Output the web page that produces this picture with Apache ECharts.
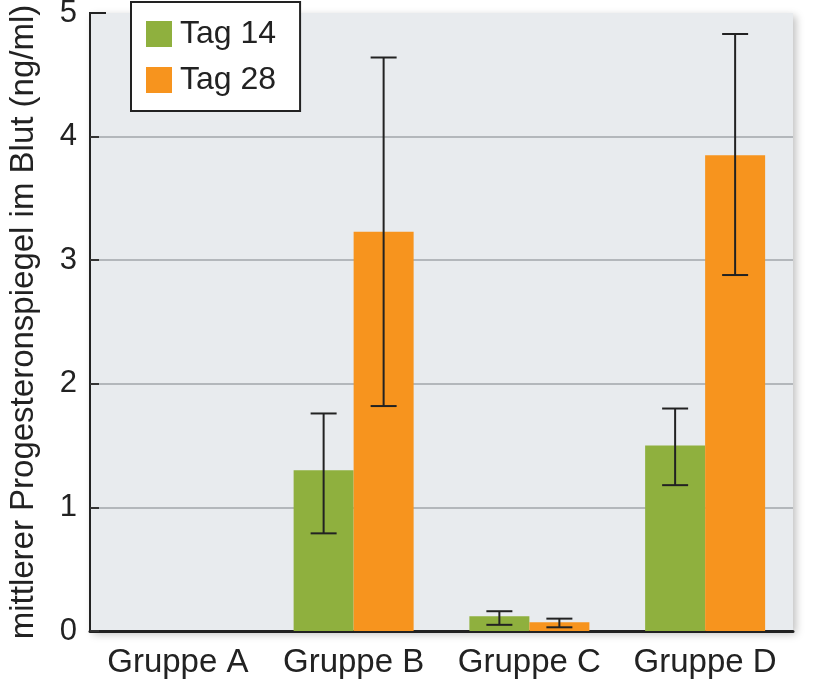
<!DOCTYPE html>
<html><head><meta charset="utf-8">
<script src="https://cdn.jsdelivr.net/npm/echarts@6/dist/echarts.min.js"></script>
<style>html,body{margin:0;padding:0;background:#fff}#c{width:813px;height:685px}</style>
</head><body><div id="c"></div>
<script>
const categories = ['Gruppe A', 'Gruppe B', 'Gruppe C', 'Gruppe D'];
const seriesNames = ['Tag 14', 'Tag 28'];
const tag14 = [0, 1.30, 0.12, 1.50];
const tag28 = [0, 3.23, 0.07, 3.85];
const tag14Low = [null, 0.79, 0.05, 1.18];
const tag14High = [null, 1.76, 0.16, 1.80];
const tag28Low = [null, 1.82, 0.03, 2.88];
const tag28High = [null, 4.64, 0.10, 4.83];
const yTicks = [0, 1, 2, 3, 4, 5];

const chart = echarts.init(document.getElementById('c'));
const font = 'Liberation Sans, Arial, sans-serif';
const BAR_W = 60;

function errData(low, high, idx) {
  return categories.map((c, i) => low[i] == null ? null : [i, low[i], high[i], idx]).filter(d => d);
}
function renderErr(params, api) {
  const i = api.value(0), lo = api.value(1), hi = api.value(2), s = api.value(3);
  const c = api.coord([i, 0]);
  const x = c[0] + (s === 0 ? -BAR_W / 2 : BAR_W / 2);
  const pLo = api.coord([i, lo])[1], pHi = api.coord([i, hi])[1];
  const cap = 13;
  const style = { stroke: '#222', lineWidth: 2 };
  return { type: 'group', children: [
    { type: 'line', shape: { x1: x, y1: pLo, x2: x, y2: pHi }, style },
    { type: 'line', shape: { x1: x - cap, y1: pHi, x2: x + cap, y2: pHi }, style },
    { type: 'line', shape: { x1: x - cap, y1: pLo, x2: x + cap, y2: pLo }, style }
  ]};
}

chart.setOption({
  animation: false,
  textStyle: { fontFamily: font },
  grid: { left: 90, right: 20, top: 13, bottom: 54, containLabel: false, outerBoundsMode: 'none',
          show: true, backgroundColor: '#e8ebee', borderWidth: 0,
          shadowColor: 'rgba(0,0,0,0.25)', shadowBlur: 8, shadowOffsetX: 3, shadowOffsetY: 3 },
  legend: {
    data: seriesNames, orient: 'vertical', left: 131, top: 2,
    backgroundColor: '#fff', borderColor: '#222', borderWidth: 2,
    padding: [16, 24, 15, 15], itemGap: 14, itemWidth: 26, itemHeight: 26,
    textStyle: { fontSize: 32, color: '#222', fontFamily: font, padding: [2, 0, 0, 3] },
    icon: 'rect'
  },
  xAxis: {
    type: 'category', data: categories,
    axisLine: { lineStyle: { color: '#222', width: 3 } },
    axisTick: { show: false },
    axisLabel: { fontSize: 33, color: '#222', margin: 15, fontFamily: font, interval: 0 }
  },
  yAxis: {
    type: 'value', min: 0, max: 5, interval: 1,
    name: 'mittlerer Progesteronspiegel im Blut (ng/ml)', nameLocation: 'middle', nameGap: 50, nameRotate: 90,
    nameTextStyle: { fontSize: 33, color: '#222', fontFamily: font },
    axisLine: { show: true, lineStyle: { color: '#222', width: 2 } },
    axisTick: { show: true, inside: true, length: 9, lineStyle: { color: '#333', width: 2 } },
    axisLabel: { fontSize: 31, color: '#222', margin: 13, fontFamily: font,
                 formatter: v => yTicks.includes(v) ? String(v) : '' },
    splitLine: { show: true, lineStyle: { color: ['rgba(0,0,0,0)', '#b3b7bb', '#b3b7bb', '#b3b7bb', '#b3b7bb', 'rgba(0,0,0,0)'], width: 2 } }
  },
  series: [
    { name: seriesNames[0], type: 'bar', data: tag14, barWidth: BAR_W, barGap: '0%',
      itemStyle: { color: '#8fb03e' } },
    { name: seriesNames[1], type: 'bar', data: tag28, barWidth: BAR_W, barGap: '0%',
      itemStyle: { color: '#f7941e' } },
    { type: 'custom', data: errData(tag14Low, tag14High, 0), renderItem: renderErr, z: 5 },
    { type: 'custom', data: errData(tag28Low, tag28High, 1), renderItem: renderErr, z: 5 },
    { type: 'custom', data: [[0, yTicks[yTicks.length - 1]]], z: 6,
      renderItem: (params, api) => {
        const y = api.coord([0, api.value(1)])[1];
        const x0 = params.coordSys.x;
        return { type: 'line', shape: { x1: x0 - 1, y1: y, x2: x0 + 16, y2: y }, style: { stroke: '#222', lineWidth: 2 } };
      } }
  ]
});
</script></body></html>
